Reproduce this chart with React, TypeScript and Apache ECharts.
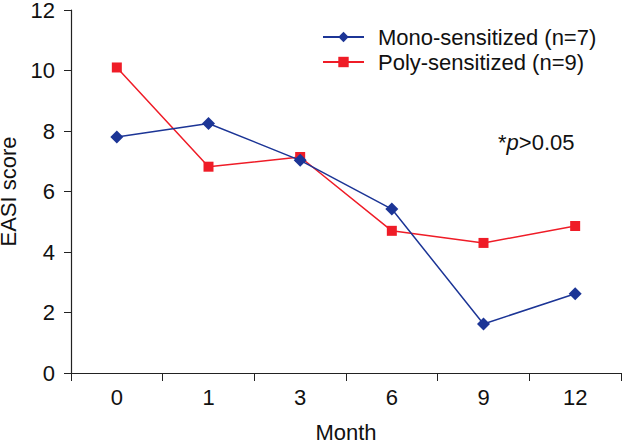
import React, { useEffect, useRef } from "react";
import * as echarts from "echarts";

const months = ["0", "1", "3", "6", "9", "12"];
const monoValues = [7.8, 8.25, 7.03, 5.42, 1.62, 2.62];
const polyValues = [10.1, 6.82, 7.14, 4.7, 4.3, 4.86];
const monoName = "Mono-sensitized (n=7)";
const polyName = "Poly-sensitized (n=9)";

const FONT = "'Liberation Sans', Arial, sans-serif";
const BLUE = "#1c3596";
const RED = "#ef1c27";
const FS = 22;

export default function App() {
  const ref = useRef<HTMLDivElement>(null);
  useEffect(() => {
    if (!ref.current) return;
    const chart = echarts.init(ref.current, undefined, { renderer: "svg" });
    chart.setOption({
      animation: false,
      textStyle: { fontFamily: FONT },
      grid: { left: 71, right: 1, top: 10, bottom: 67, containLabel: false, outerBoundsMode: "none" },
      legend: {
        orient: "vertical",
        left: 322,
        top: 26,
        padding: 0,
        itemWidth: 41,
        itemHeight: 13,
        itemGap: 3,
        textStyle: { fontSize: FS, color: "#111", fontFamily: FONT, padding: [0, 0, 0, 9] },
        data: [monoName, polyName],
      },
      xAxis: {
        type: "category",
        data: months,
        boundaryGap: true,
        name: "Month",
        nameLocation: "middle",
        nameGap: 48,
        nameTextStyle: { fontSize: FS, color: "#111", fontFamily: FONT },
        axisLine: { show: true, lineStyle: { color: "#222", width: 1.2 } },
        axisTick: { show: true, length: 8, lineStyle: { color: "#222" } },
        axisLabel: { fontSize: FS, color: "#111", margin: 13, fontFamily: FONT },
        splitLine: { show: false },
      },
      yAxis: {
        type: "value",
        min: 0,
        max: 12,
        interval: 2,
        name: "EASI score",
        nameLocation: "middle",
        nameGap: 50,
        nameTextStyle: { fontSize: FS, color: "#111", fontFamily: FONT },
        axisLine: { show: true, lineStyle: { color: "#222", width: 1.2 } },
        axisTick: { show: true, length: 7, lineStyle: { color: "#222" } },
        axisLabel: { fontSize: FS, color: "#111", margin: 16, fontFamily: FONT },
        splitLine: { show: false },
      },
      graphic: [
        {
          type: "text",
          left: 498,
          top: 131,
          style: {
            text: "{a|*}{b|p}{c|>0.05}",
            rich: {
              a: { fontSize: FS, fill: "#111", fontFamily: FONT, verticalAlign: "top" },
              b: { fontSize: FS, fill: "#111", fontStyle: "italic", fontFamily: FONT },
              c: { fontSize: FS, fill: "#111", fontFamily: FONT },
            },
          },
        },
      ],
      series: [
        {
          name: monoName,
          type: "line",
          data: monoValues,
          symbol: "diamond",
          symbolSize: 13,
          lineStyle: { color: BLUE, width: 1.5 },
          itemStyle: { color: BLUE },
          z: 3,
        },
        {
          name: polyName,
          type: "line",
          data: polyValues,
          symbol: "rect",
          symbolSize: 10,
          lineStyle: { color: RED, width: 1.5 },
          itemStyle: { color: RED },
          z: 2,
        },
      ],
    });
    return () => chart.dispose();
  }, []);
  return <div ref={ref} style={{ width: 622, height: 440, position: "absolute", left: 0, top: 0 }} />;
}
